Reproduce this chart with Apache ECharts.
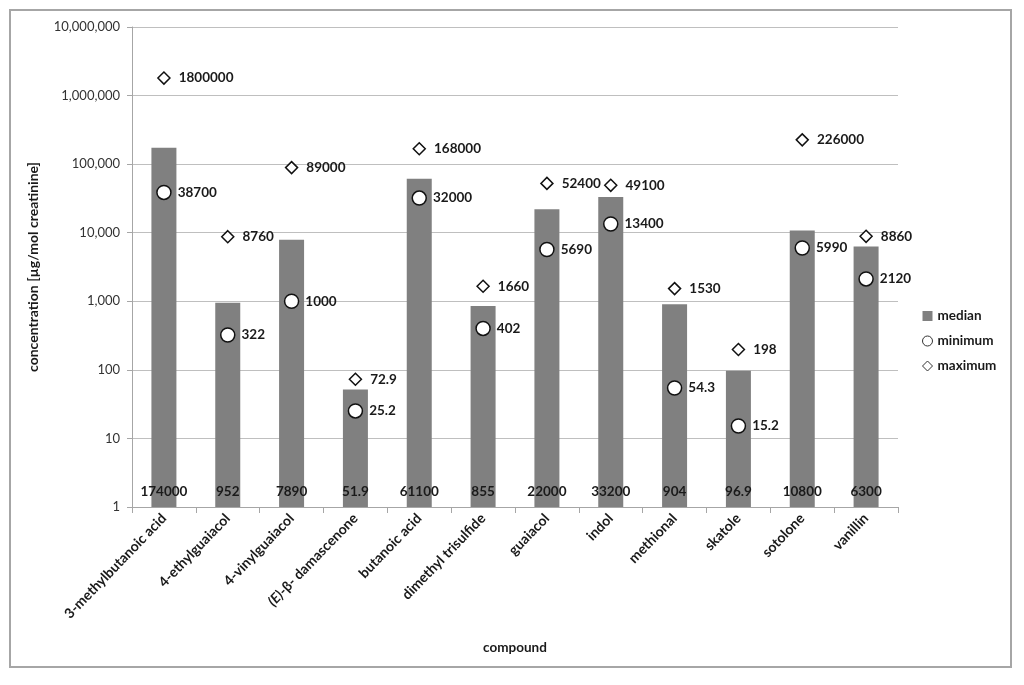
<!DOCTYPE html>
<html>
<head>
<meta charset="utf-8">
<script src="https://cdn.jsdelivr.net/npm/echarts@6/dist/echarts.min.js"></script>
<style>
  html, body { margin: 0; padding: 0; background: #fff; }
  #chart { width: 1024px; height: 685px; }
</style>
</head>
<body>
<div id="chart"></div>
<script>
// compounds on the x axis
const compounds = [
  '3-methylbutanoic acid', '4-ethylguaiacol', '4-vinylguaiacol', '(E)-β- damascenone',
  'butanoic acid', 'dimethyl trisulfide', 'guaiacol', 'indol',
  'methional', 'skatole', 'sotolone', 'vanillin'
]
// µg/mol creatinine
const medianValues = [174000, 952, 7890, 51.9, 61100, 855, 22000, 33200, 904, 96.9, 10800, 6300]
const minimumValues = [38700, 322, 1000, 25.2, 32000, 402, 5690, 13400, 54.3, 15.2, 5990, 2120]
const maximumValues = [1800000, 8760, 89000, 72.9, 168000, 1660, 52400, 49100, 1530, 198, 226000, 8860]

const FONT = 'Lato, "Open Sans", sans-serif'
const TXT = '#1a1a1a'

const chart = echarts.init(document.getElementById('chart'))

const option = {
  backgroundColor: '#fff',
  animation: false,
  textStyle: { fontFamily: FONT },
  graphic: [{
    type: 'rect',
    shape: { x: 10, y: 10, width: 1001, height: 657 },
    style: { fill: 'none', stroke: '#a6a6a6', lineWidth: 2 },
    silent: true
  }],
  grid: { left: 132, right: 126, top: 27, bottom: 178 },
  legend: {
    orient: 'vertical',
    left: 917,
    top: 304,
    itemWidth: 10,
    itemHeight: 10,
    itemGap: 11,
    textStyle: { fontFamily: FONT, fontSize: 13.5, fontWeight: 'bold', color: TXT },
    data: [
      { name: 'median', icon: 'rect', itemStyle: { color: '#808080', borderWidth: 0 } },
      { name: 'minimum', icon: 'circle', itemStyle: { color: '#fff', borderColor: '#333', borderWidth: 1 } },
      { name: 'maximum', icon: 'diamond', itemStyle: { color: '#fff', borderColor: '#333', borderWidth: 1 } }
    ]
  },
  xAxis: {
    type: 'category',
    data: compounds,
    name: 'compound',
    nameLocation: 'middle',
    nameGap: 134,
    nameTextStyle: { fontFamily: FONT, fontSize: 13.5, fontWeight: 'bold', color: TXT },
    axisLine: { lineStyle: { color: '#a6a6a6' } },
    axisTick: { show: true, alignWithLabel: false, length: 6, lineStyle: { color: '#a6a6a6' } },
    axisLabel: {
      rotate: 46,
      interval: 0,
      margin: 9,
      fontFamily: FONT,
      fontSize: 14,
      fontWeight: 'bold',
      color: TXT,
      formatter: function (v) {
        if (v.indexOf('(E)') === 0) return '{i|(E)}' + v.slice(3)
        return v
      },
      rich: {
        i: { fontStyle: 'italic', fontWeight: 'bold', fontSize: 14, fontFamily: FONT, color: TXT }
      }
    }
  },
  yAxis: {
    type: 'log',
    logBase: 10,
    min: 1,
    max: 10000000,
    name: 'concentration [µg/mol creatinine]',
    nameLocation: 'middle',
    nameGap: 92,
    nameTextStyle: { fontFamily: FONT, fontSize: 14, fontWeight: 'bold', color: TXT },
    axisLine: { show: true, lineStyle: { color: '#a6a6a6' } },
    axisTick: { show: true, length: 5, inside: false, lineStyle: { color: '#a6a6a6' } },
    minorTick: { show: false },
    splitLine: { lineStyle: { color: '#bfbfbf', width: 1 } },
    axisLabel: {
      fontFamily: FONT,
      fontSize: 13,
      color: '#333',
      margin: 12,
      formatter: function (v) { return Math.round(v).toLocaleString('en-US') }
    }
  },
  series: [
    {
      name: 'median',
      type: 'bar',
      data: medianValues,
      barWidth: 25,
      itemStyle: { color: '#808080' },
      label: {
        show: true,
        position: 'insideBottom',
        distance: 8,
        fontFamily: FONT,
        fontSize: 13.5,
        fontWeight: 'bold',
        color: TXT
      },
      z: 1
    },
    {
      name: 'minimum',
      type: 'scatter',
      data: minimumValues,
      symbol: 'circle',
      symbolSize: 14,
      itemStyle: { color: '#fff', borderColor: '#111', borderWidth: 1.5, opacity: 1 },
      label: {
        show: true,
        position: 'right',
        distance: 6,
        fontFamily: FONT,
        fontSize: 13.5,
        fontWeight: 'bold',
        color: TXT
      },
      z: 3
    },
    {
      name: 'maximum',
      type: 'scatter',
      data: maximumValues,
      symbol: 'diamond',
      symbolSize: 12,
      itemStyle: { color: '#fff', borderColor: '#111', borderWidth: 1.5, opacity: 1 },
      label: {
        show: true,
        position: 'right',
        distance: 8,
        fontFamily: FONT,
        fontSize: 13.5,
        fontWeight: 'bold',
        color: TXT
      },
      z: 3
    }
  ]
}

chart.setOption(option)
</script>
</body>
</html>
